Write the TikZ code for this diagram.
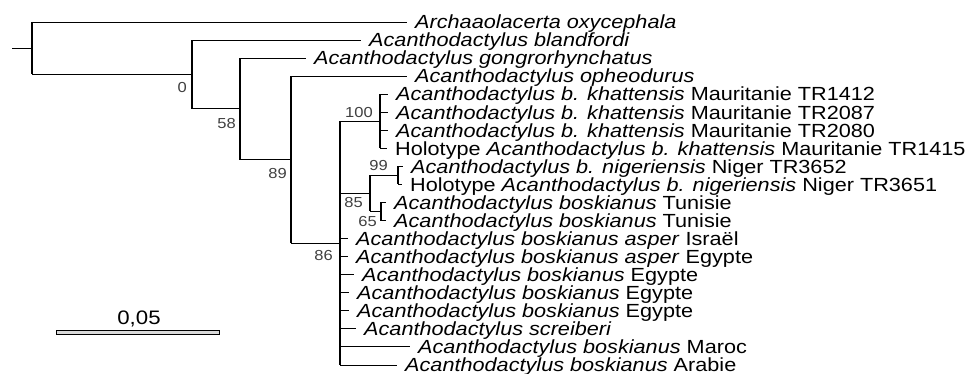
\documentclass[tikz,border=0pt]{standalone}
\usepackage{fontspec}
\setmainfont{Liberation Sans}[FakeStretch=1.14]
\usepackage{tikz}
\usetikzlibrary{positioning}

\tikzset{
  taxon/.style={anchor=west, inner xsep=8pt, inner ysep=0pt,
    text height=13.6pt, text depth=0pt, font=\fontsize{19}{19}\selectfont},
  boot/.style={inner sep=0pt, text=black!75, font=\fontsize{14.5}{15}\selectfont},
  vbranch/.style={line width=2pt},
  hbranch/.style={line width=0.9pt},
}

\begin{document}
\begin{tikzpicture}[x=1pt, y=-1pt]
    \useasboundingbox (0,0) rectangle (966,374);

    % Internal nodes
    \coordinate (stub) at (12,48.2);
    \coordinate (root) at (32,48.2);
    \coordinate (nA) at (192,74.5);
    \coordinate (nB) at (240,108.9);
    \coordinate (nC) at (291,159.7);
    \coordinate (nD) at (340,243.2);
    \coordinate (nK) at (380,121.3);
    \coordinate (n85) at (370,193.5);
    \coordinate (n99) at (398,175.4);
    \coordinate (n65) at (381,211.5);

    % Taxa
    \node[taxon] (arch) at (407,22.00) {\textit{Archaaolacerta oxycephala}};
    \node[taxon] (bland) at (361,40.05) {\textit{Acanthodactylus blandfordi}};
    \node[taxon] (gong) at (306,58.10) {\textit{Acanthodactylus gongrorhynchatus}};
    \node[taxon] (ophe) at (407,76.15) {\textit{Acanthodactylus opheodurus}};
    \node[taxon] (kh1) at (388,94.20) {\textit{Acanthodactylus b. khattensis} Mauritanie TR1412};
    \node[taxon] (kh2) at (388,112.25) {\textit{Acanthodactylus b. khattensis} Mauritanie TR2087};
    \node[taxon] (kh3) at (388,130.30) {\textit{Acanthodactylus b. khattensis} Mauritanie TR2080};
    \node[taxon] (kh4) at (387,148.35) {Holotype \textit{Acanthodactylus b. khattensis} Mauritanie TR1415};
    \node[taxon] (ni1) at (403,166.40) {\textit{Acanthodactylus b. nigeriensis} Niger TR3652};
    \node[taxon] (ni2) at (402,184.45) {Holotype \textit{Acanthodactylus b. nigeriensis} Niger TR3651};
    \node[taxon] (tu1) at (386,202.50) {\textit{Acanthodactylus boskianus} Tunisie};
    \node[taxon] (tu2) at (386,220.55) {\textit{Acanthodactylus boskianus} Tunisie};
    \node[taxon] (asIs) at (348,238.60) {\textit{Acanthodactylus boskianus asper} Israël};
    \node[taxon] (asEg) at (348,256.65) {\textit{Acanthodactylus boskianus asper} Egypte};
    \node[taxon] (eg1) at (354,274.70) {\textit{Acanthodactylus boskianus} Egypte};
    \node[taxon] (eg2) at (349,292.75) {\textit{Acanthodactylus boskianus} Egypte};
    \node[taxon] (eg3) at (349,310.80) {\textit{Acanthodactylus boskianus} Egypte};
    \node[taxon] (scr) at (356,328.85) {\textit{Acanthodactylus screiberi}};
    \node[taxon] (mar) at (410,346.90) {\textit{Acanthodactylus boskianus} Maroc};
    \node[taxon] (ara) at (397,364.95) {\textit{Acanthodactylus boskianus} Arabie};

    % Horizontal branches
    \draw[hbranch] (stub) -- (root);
    \draw[hbranch] (root |- arch.west) -- (arch.west);
    \draw[hbranch] (root |- nA) -- (nA);
    \draw[hbranch] (nA |- bland.west) -- (bland.west);
    \draw[hbranch] (nA |- nB) -- (nB);
    \draw[hbranch] (nB |- gong.west) -- (gong.west);
    \draw[hbranch] (nB |- nC) -- (nC);
    \draw[hbranch] (nC |- ophe.west) -- (ophe.west);
    \draw[hbranch] (nC |- nD) -- (nD);
    \draw[hbranch] (nD |- nK) -- (nK);
    \draw[hbranch] (nD |- n85) -- (n85);
    \draw[hbranch] (nD |- asIs.west) -- (asIs.west);
    \draw[hbranch] (nD |- asEg.west) -- (asEg.west);
    \draw[hbranch] (nD |- eg1.west) -- (eg1.west);
    \draw[hbranch] (nD |- eg2.west) -- (eg2.west);
    \draw[hbranch] (nD |- eg3.west) -- (eg3.west);
    \draw[hbranch] (nD |- scr.west) -- (scr.west);
    \draw[hbranch] (nD |- mar.west) -- (mar.west);
    \draw[hbranch] (nD |- ara.west) -- (ara.west);
    \draw[hbranch] (nK |- kh1.west) -- (kh1.west);
    \draw[hbranch] (nK |- kh2.west) -- (kh2.west);
    \draw[hbranch] (nK |- kh3.west) -- (kh3.west);
    \draw[hbranch] (nK |- kh4.west) -- (kh4.west);
    \draw[hbranch] (n85 |- n99) -- (n99);
    \draw[hbranch] (n85 |- n65) -- (n65);
    \draw[hbranch] (n99 |- ni1.west) -- (ni1.west);
    \draw[hbranch] (n99 |- ni2.west) -- (ni2.west);
    \draw[hbranch] (n65 |- tu1.west) -- (tu1.west);
    \draw[hbranch] (n65 |- tu2.west) -- (tu2.west);

    % Vertical branches
    \draw[vbranch] (root |- arch.west) -- (root |- nA);
    \draw[vbranch] (nA |- bland.west) -- (nA |- nB);
    \draw[vbranch] (nB |- gong.west) -- (nB |- nC);
    \draw[vbranch] (nC |- ophe.west) -- (nC |- nD);
    \draw[vbranch] (nD |- nK) -- (nD |- ara.west);
    \draw[vbranch] (nK |- kh1.west) -- (nK |- kh4.west);
    \draw[vbranch] (n85 |- n99) -- (n85 |- n65);
    \draw[vbranch] (n99 |- ni1.west) -- (n99 |- ni2.west);
    \draw[vbranch] (n65 |- tu1.west) -- (n65 |- tu2.west);

    % Bootstrap values
    \node[boot, below left=8pt and 5pt of nA] (bs0) {0};
    \node[boot, below left=9pt and 4pt of nB] (bs58) {58};
    \node[boot, below left=8pt and 4pt of nC] (bs89) {89};
    \node[boot, below left=7pt and 7pt of nD] (bs86) {86};
    \node[boot, above left=3pt and 7pt of nK] (bs100) {100};
    \node[boot, above left=5pt and 10pt of n99] (bs99) {99};
    \node[boot, below left=4pt and 7pt of n85] (bs85) {85};
    \node[boot, below left=5pt and 4pt of n65] (bs65) {65};

    % Scale bar
    \coordinate (barL) at (56,332);
    \coordinate (barR) at (219,332);
    \coordinate (barM) at (139,332);
    \draw[fill=black!15, line width=0.6pt] ([yshift=1.8pt]barL) rectangle ([yshift=-1.8pt]barR);
    \node[inner sep=0pt, text depth=0pt, font=\fontsize{19.5}{20}\selectfont, above=7pt of barM] (scale) {0,05};
\end{tikzpicture}
\end{document}
